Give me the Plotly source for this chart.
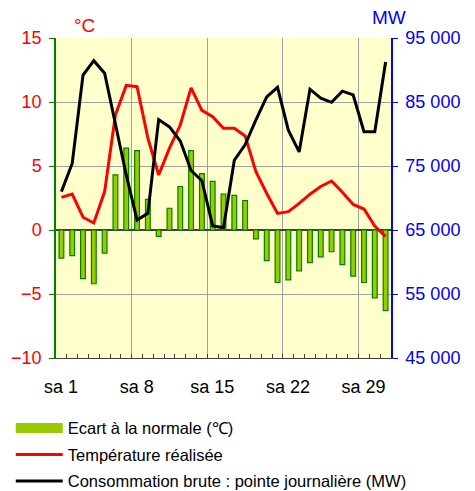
import plotly.graph_objects as go

days = list(range(1, 32))
tick_days = [1, 8, 15, 22, 29]
tick_labels = ["sa %d" % d for d in tick_days]
ecart = [-2.2, -2.0, -3.8, -4.2, -1.8, 4.3, 6.4, 6.2, 2.4, -0.5,
         1.7, 3.4, 6.2, 4.4, 3.8, 2.8, 2.7, 2.3, -0.7, -2.4,
         -4.1, -3.9, -3.2, -2.55, -2.1, -1.7, -2.7, -3.6, -4.1, -5.3, -6.3]
temp = [2.55, 2.8, 1.0, 0.55, 3.0, 9.0, 11.3, 11.2, 7.2, 4.3,
        6.4, 8.2, 11.1, 9.35, 8.85, 7.95, 7.95, 7.35, 4.55, 2.85,
        1.3, 1.43, 2.08, 2.8, 3.4, 3.83, 2.95, 2.0, 1.64, 0.31, -0.52]
conso = [71000, 75400, 89200, 91450, 89500, 81400, 73600, 66550, 67600, 82250,
         81100, 78900, 74300, 72700, 65650, 65350, 75900, 78300, 82200, 85800,
         87300, 80600, 77200, 87000, 85600, 84950, 86700, 86100, 80350, 80350, 91250]

FONT = "Liberation Sans, Arial, sans-serif"
# category boundaries before each labelled day (gridlines), labels shifted to category centre
bounds = [d - 0.5 for d in tick_days]

fig = go.Figure()
fig.add_trace(go.Bar(
    x=days, y=ecart, name="Ecart à la normale (℃)", width=0.44,
    marker=dict(color="#99CC00", line=dict(color="#008000", width=1.2)),
    yaxis="y", showlegend=False))
fig.add_trace(go.Scatter(
    x=[None], y=[None], name="Ecart à la normale (℃)", mode="lines",
    line=dict(color="#99CC00", width=10), legendgroup="a"))
fig.add_trace(go.Scatter(
    x=days, y=temp, name="Température réalisée", mode="lines",
    line=dict(color="#FF0000", width=3), yaxis="y", legendgroup="b"))
fig.add_trace(go.Scatter(
    x=days, y=conso, name="Consommation brute : pointe journalière (MW)", mode="lines",
    line=dict(color="#000000", width=3), yaxis="y2", legendgroup="c"))

fig.update_layout(
    width=467, height=483,
    margin=dict(l=48, r=84, t=30, b=133, autoexpand=False),
    paper_bgcolor="white", plot_bgcolor="#FFFFCC",
    font=dict(family=FONT, size=18, color="black"),
    separators=". ",
    showlegend=True,
    legend=dict(x=-0.135, y=-0.165,
                xanchor="left", yanchor="top", font=dict(size=16.5, color="black"),
                itemwidth=47, tracegroupgap=2, bgcolor="rgba(0,0,0,0)",
                traceorder="grouped"),
    xaxis=dict(range=[0.5, 31.5], tickvals=bounds, ticktext=tick_labels,
               ticks="inside", ticklen=4, tickcolor="#404040",
               showgrid=True, gridcolor="#A0A0A0", gridwidth=1, zeroline=False,
               showline=True, linecolor="#404040", linewidth=1,
               ticklabelshift=5, ticklabelstandoff=12,
               tickfont=dict(size=18, color="black"),
               minor=dict(tick0=0.5, dtick=1, ticks="inside", ticklen=4,
                          tickcolor="#404040", showgrid=False)),
    yaxis=dict(range=[-10, 15], dtick=5, tick0=0, showgrid=True, gridcolor="#A0A0A0",
               gridwidth=1, zeroline=True, zerolinecolor="#404040", zerolinewidth=1.5,
               showline=True, linecolor="#008000", linewidth=1.5,
               ticks="outside", ticklen=5, tickcolor="#008000",
               ticklabelstandoff=4, tickfont=dict(size=18, color="#FF0000")),
    yaxis2=dict(range=[45000, 95000], dtick=10000, tick0=45000, overlaying="y", side="right",
                showgrid=False, zeroline=False, tickformat=",d",
                showline=True, linecolor="#0000FF", linewidth=1.5,
                ticks="outside", ticklen=5, tickcolor="#0000FF",
                ticklabelstandoff=4, tickfont=dict(size=18, color="#0000FF")),
    annotations=[
        dict(text="°C", xref="paper", yref="paper", x=0.085, y=1.0, yshift=0,
             xanchor="center", yanchor="bottom", showarrow=False,
             font=dict(size=19, color="#FF0000")),
        dict(text="MW", xref="paper", yref="paper", x=0.995, y=1.0, yshift=8,
             xanchor="center", yanchor="bottom", showarrow=False,
             font=dict(size=19, color="#0000FF")),
    ],
)

fig.write_html("out.html")
